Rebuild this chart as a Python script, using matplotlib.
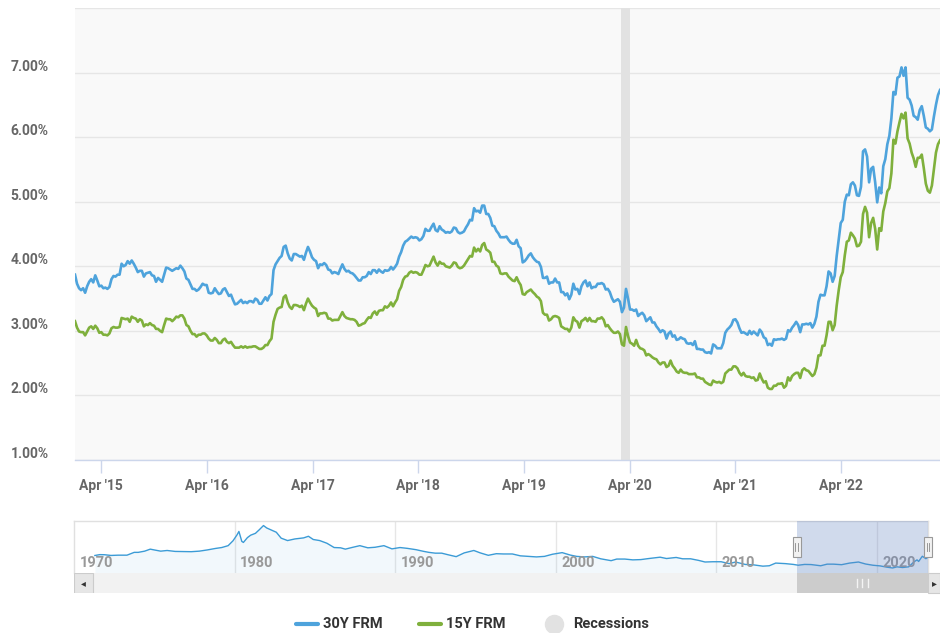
import matplotlib
matplotlib.use("Agg")
import matplotlib.pyplot as plt
import matplotlib.dates as mdates
import matplotlib.transforms as mtrans
from matplotlib.patches import Rectangle
from matplotlib.lines import Line2D
import numpy as np
import pandas as pd

plt.rcParams['font.family'] = ['Roboto', 'DejaVu Sans']

#########################################################################################
# Data: weekly Freddie Mac PMMS rates, first week = 2015-01-01
#########################################################################################
first_week = "2015-01-01"

rate_30y = [
    # 2015
    3.87, 3.73, 3.66, 3.63, 3.66, 3.59, 3.69, 3.76, 3.80, 3.75, 3.86, 3.78, 3.69,
    3.70, 3.66, 3.67, 3.65, 3.68, 3.80, 3.85, 3.84, 3.87, 3.87, 4.04, 4.00, 4.02,
    4.08, 4.04, 4.09, 4.04, 3.98, 3.91, 3.93, 3.93, 3.84, 3.89, 3.90, 3.91, 3.86,
    3.85, 3.76, 3.82, 3.79, 3.76, 3.87, 3.98, 3.97, 3.95, 3.93, 3.95, 3.97, 3.96, 4.01,
    # 2016
    3.97, 3.92, 3.81, 3.79, 3.72, 3.65, 3.65, 3.62, 3.64, 3.68, 3.73, 3.71, 3.71,
    3.59, 3.58, 3.59, 3.66, 3.61, 3.57, 3.58, 3.64, 3.66, 3.60, 3.54, 3.56, 3.48,
    3.41, 3.42, 3.45, 3.48, 3.43, 3.45, 3.43, 3.46, 3.46, 3.44, 3.50, 3.48, 3.42,
    3.42, 3.47, 3.52, 3.47, 3.54, 3.57, 3.94, 4.03, 4.08, 4.13, 4.16, 4.30, 4.32,
    # 2017
    4.20, 4.12, 4.09, 4.19, 4.19, 4.17, 4.15, 4.16, 4.10, 4.21, 4.30, 4.23, 4.14,
    4.10, 4.08, 3.97, 4.03, 4.02, 4.05, 4.02, 3.95, 3.94, 3.89, 3.91, 3.90, 3.88,
    3.96, 4.03, 3.96, 3.92, 3.93, 3.90, 3.89, 3.86, 3.82, 3.78, 3.78, 3.83, 3.83,
    3.85, 3.91, 3.88, 3.94, 3.94, 3.90, 3.95, 3.92, 3.90, 3.94, 3.93, 3.94, 3.99,
    # 2018
    3.95, 3.99, 4.04, 4.15, 4.22, 4.32, 4.38, 4.40, 4.43, 4.46, 4.44, 4.45, 4.44,
    4.40, 4.42, 4.47, 4.58, 4.55, 4.55, 4.61, 4.66, 4.56, 4.54, 4.62, 4.57, 4.55,
    4.52, 4.53, 4.52, 4.54, 4.60, 4.59, 4.53, 4.51, 4.52, 4.54, 4.60, 4.65, 4.72,
    4.71, 4.90, 4.85, 4.86, 4.83, 4.94, 4.94, 4.81, 4.81, 4.75, 4.63, 4.62, 4.55,
    # 2019
    4.51, 4.45, 4.45, 4.45, 4.46, 4.41, 4.37, 4.35, 4.35, 4.41, 4.31, 4.28, 4.06,
    4.08, 4.12, 4.17, 4.20, 4.14, 4.10, 4.07, 4.06, 3.99, 3.82, 3.82, 3.84, 3.73,
    3.75, 3.75, 3.81, 3.75, 3.75, 3.60, 3.60, 3.55, 3.58, 3.49, 3.56, 3.73, 3.64,
    3.65, 3.57, 3.69, 3.75, 3.78, 3.69, 3.75, 3.66, 3.68, 3.68, 3.73, 3.73, 3.74,
    # 2020
    3.72, 3.64, 3.65, 3.60, 3.51, 3.45, 3.47, 3.49, 3.45, 3.29, 3.36, 3.65, 3.50,
    3.33, 3.33, 3.31, 3.33, 3.23, 3.26, 3.28, 3.24, 3.15, 3.18, 3.21, 3.13, 3.13,
    3.07, 3.03, 2.98, 3.01, 2.99, 2.88, 2.96, 2.99, 2.91, 2.93, 2.86, 2.87, 2.90,
    2.88, 2.87, 2.81, 2.80, 2.81, 2.78, 2.84, 2.72, 2.72, 2.71, 2.71, 2.67, 2.66, 2.67,
    # 2021
    2.65, 2.79, 2.77, 2.73, 2.73, 2.73, 2.81, 2.97, 3.02, 3.05, 3.09, 3.17,
    3.18, 3.13, 3.04, 2.97, 2.98, 2.96, 2.94, 3.00, 2.95, 2.99, 2.96, 2.93, 3.02,
    2.98, 2.90, 2.88, 2.78, 2.80, 2.77, 2.87, 2.86, 2.87, 2.87, 2.88, 2.86, 2.88, 3.01,
    2.99, 3.05, 3.09, 3.14, 3.09, 2.98, 3.10, 3.10, 3.11, 3.10, 3.12, 3.05, 3.11,
    # 2022
    3.22, 3.45, 3.56, 3.55, 3.55, 3.69, 3.92, 3.89, 3.76, 3.85, 4.16, 4.42, 4.67,
    4.72, 5.00, 5.11, 5.10, 5.27, 5.30, 5.25, 5.10, 5.09, 5.23, 5.78, 5.81, 5.70,
    5.30, 5.51, 5.54, 5.30, 4.99, 5.22, 5.13, 5.55, 5.66, 5.89, 6.02, 6.29, 6.70,
    6.66, 6.92, 6.94, 7.08, 6.95, 7.08, 6.61, 6.58, 6.49, 6.33, 6.31, 6.27, 6.42,
    # 2023
    6.48, 6.33, 6.15, 6.13, 6.09, 6.12, 6.32, 6.50, 6.65, 6.73,
]

rate_15y = [
    # 2015
    3.15, 3.05, 2.99, 2.98, 2.98, 2.93, 2.99, 3.05, 3.07, 3.03, 3.08, 3.04, 2.97,
    2.98, 2.94, 2.94, 2.93, 2.96, 3.04, 3.06, 3.05, 3.05, 3.06, 3.20, 3.19, 3.18,
    3.19, 3.14, 3.22, 3.20, 3.19, 3.14, 3.18, 3.16, 3.07, 3.10, 3.09, 3.12, 3.09,
    3.08, 3.03, 3.03, 3.00, 2.98, 3.09, 3.19, 3.18, 3.18, 3.15, 3.18, 3.22, 3.21, 3.24,
    # 2016
    3.24, 3.19, 3.09, 3.07, 3.00, 2.95, 2.95, 2.91, 2.94, 2.94, 2.96, 2.96, 2.93,
    2.88, 2.85, 2.85, 2.89, 2.86, 2.81, 2.81, 2.86, 2.88, 2.83, 2.81, 2.83, 2.78,
    2.74, 2.74, 2.74, 2.76, 2.74, 2.76, 2.74, 2.75, 2.75, 2.76, 2.76, 2.74, 2.72,
    2.72, 2.74, 2.78, 2.78, 2.84, 2.88, 3.14, 3.25, 3.34, 3.36, 3.37, 3.52, 3.55,
    # 2017
    3.44, 3.37, 3.34, 3.40, 3.40, 3.39, 3.37, 3.39, 3.32, 3.42, 3.50, 3.44, 3.39,
    3.36, 3.34, 3.23, 3.27, 3.27, 3.28, 3.27, 3.19, 3.19, 3.16, 3.17, 3.17, 3.17,
    3.23, 3.29, 3.23, 3.20, 3.19, 3.18, 3.18, 3.17, 3.14, 3.08, 3.09, 3.11, 3.12,
    3.17, 3.21, 3.20, 3.27, 3.30, 3.25, 3.31, 3.32, 3.32, 3.38, 3.36, 3.39, 3.44,
    # 2018
    3.38, 3.44, 3.49, 3.62, 3.68, 3.79, 3.84, 3.85, 3.90, 3.92, 3.90, 3.91, 3.90,
    3.87, 3.87, 3.94, 4.02, 4.00, 4.01, 4.08, 4.15, 4.06, 4.01, 4.07, 4.04, 4.04,
    4.00, 3.99, 3.98, 4.01, 4.06, 4.05, 3.99, 3.97, 3.98, 4.01, 4.06, 4.11, 4.16,
    4.15, 4.29, 4.23, 4.27, 4.23, 4.33, 4.36, 4.26, 4.24, 4.21, 4.07, 4.07, 4.01,
    # 2019
    3.99, 3.89, 3.88, 3.89, 3.89, 3.84, 3.81, 3.78, 3.77, 3.83, 3.76, 3.71, 3.57,
    3.56, 3.60, 3.62, 3.64, 3.60, 3.57, 3.53, 3.51, 3.46, 3.28, 3.25, 3.25, 3.16,
    3.18, 3.22, 3.23, 3.22, 3.20, 3.07, 3.05, 3.03, 3.03, 2.99, 3.05, 3.21, 3.16,
    3.14, 3.05, 3.15, 3.17, 3.20, 3.15, 3.20, 3.15, 3.15, 3.14, 3.19, 3.19, 3.21,
    # 2020
    3.17, 3.07, 3.09, 3.04, 3.00, 2.97, 2.97, 2.99, 2.95, 2.79, 2.77, 3.06, 2.92,
    2.82, 2.80, 2.77, 2.86, 2.77, 2.73, 2.72, 2.70, 2.62, 2.64, 2.62, 2.59, 2.57,
    2.56, 2.51, 2.48, 2.51, 2.51, 2.44, 2.46, 2.54, 2.46, 2.42, 2.37, 2.35, 2.40,
    2.36, 2.35, 2.35, 2.33, 2.33, 2.33, 2.34, 2.28, 2.28, 2.26, 2.26, 2.21, 2.19, 2.17,
    # 2021
    2.16, 2.23, 2.21, 2.20, 2.21, 2.19, 2.21, 2.34, 2.37, 2.40, 2.40, 2.45,
    2.45, 2.42, 2.35, 2.31, 2.35, 2.30, 2.29, 2.29, 2.27, 2.28, 2.23, 2.24, 2.34,
    2.26, 2.20, 2.22, 2.12, 2.10, 2.10, 2.15, 2.15, 2.18, 2.18, 2.19, 2.12, 2.15, 2.28,
    2.23, 2.30, 2.33, 2.35, 2.35, 2.27, 2.39, 2.42, 2.39, 2.38, 2.34, 2.30, 2.33,
    # 2022
    2.43, 2.62, 2.62, 2.77, 2.77, 2.93, 3.14, 3.14, 3.01, 3.09, 3.39, 3.63, 3.83,
    3.91, 4.17, 4.38, 4.40, 4.52, 4.48, 4.43, 4.31, 4.32, 4.38, 4.81, 4.92, 4.83,
    4.45, 4.67, 4.75, 4.58, 4.26, 4.59, 4.55, 4.85, 4.98, 5.16, 5.21, 5.44, 5.96,
    5.90, 6.09, 6.23, 6.36, 6.29, 6.38, 5.98, 5.90, 5.76, 5.67, 5.54, 5.68, 5.68,
    # 2023
    5.73, 5.52, 5.28, 5.17, 5.14, 5.25, 5.51, 5.76, 5.89, 5.95,
]

recession = ("2020-03-01", "2020-04-01")

# navigator: 30Y rate over the full history (decimal year, %)
nav_years = [
    1971.3, 1971.6, 1971.9, 1972.3, 1972.75, 1973.3, 1973.75, 1974.0, 1974.4, 1974.75,
    1975.0, 1975.4, 1975.8, 1976.3, 1976.8, 1977.3, 1977.8, 1978.3, 1978.8, 1979.2,
    1979.6, 1979.9, 1980.15, 1980.27, 1980.45, 1980.55, 1980.8, 1981.0, 1981.3, 1981.55,
    1981.8, 1982.0, 1982.3, 1982.6, 1982.9, 1983.3, 1983.75, 1984.3, 1984.6, 1984.9,
    1985.3, 1985.75, 1986.2, 1986.6, 1986.9, 1987.3, 1987.8, 1988.3, 1988.75, 1989.3,
    1989.8, 1990.3, 1990.75, 1991.3, 1991.75, 1992.1, 1992.5, 1992.9, 1993.3, 1993.8,
    1994.3, 1994.9, 1995.3, 1995.8, 1996.3, 1996.75, 1997.3, 1997.8, 1998.3, 1998.8,
    1999.3, 1999.8, 2000.4, 2000.9, 2001.3, 2001.8, 2002.3, 2002.8, 2003.45, 2003.8,
    2004.3, 2004.8, 2005.3, 2005.8, 2006.5, 2006.9, 2007.5, 2007.9, 2008.4, 2008.9,
    2009.3, 2009.8, 2010.3, 2010.8, 2011.2, 2011.8, 2012.3, 2012.9, 2013.3, 2013.7,
    2014.3, 2014.8, 2015.1, 2015.5, 2015.9, 2016.5, 2016.9, 2017.3, 2017.8, 2018.3,
    2018.85, 2019.3, 2019.75, 2020.2, 2020.6, 2020.98, 2021.25, 2021.6, 2021.98, 2022.3,
    2022.5, 2022.6, 2022.83, 2023.05, 2023.19,
]
nav_rates = [
    7.33, 7.65, 7.62, 7.35, 7.45, 7.45, 8.5, 8.5, 8.95, 9.7,
    9.4, 8.95, 9.2, 8.85, 8.8, 8.75, 8.95, 9.4, 9.95, 10.3,
    11.0, 12.8, 15.0, 16.3, 12.6, 12.2, 14.0, 14.9, 15.6, 17.0,
    18.5, 17.6, 16.8, 16.0, 13.8, 12.9, 13.5, 13.9, 14.5, 13.3,
    12.9, 11.9, 10.3, 10.2, 9.7, 10.3, 11.0, 10.2, 10.4, 11.0,
    9.8, 10.3, 10.0, 9.5, 8.9, 8.5, 8.2, 8.2, 7.6, 6.9,
    8.3, 9.2, 8.3, 7.4, 8.0, 7.9, 7.9, 7.2, 7.0, 6.8,
    7.0, 7.8, 8.4, 7.5, 7.0, 6.8, 7.0, 6.1, 5.4, 6.0,
    6.0, 5.7, 5.8, 6.2, 6.7, 6.2, 6.6, 6.1, 6.1, 5.5,
    4.9, 5.0, 5.0, 4.3, 4.9, 4.0, 3.85, 3.35, 3.5, 4.5,
    4.3, 4.0, 3.7, 4.0, 3.95, 3.5, 4.1, 4.1, 3.9, 4.5,
    4.9, 4.15, 3.7, 3.45, 3.0, 2.67, 3.1, 2.85, 3.1, 4.9,
    5.7, 5.1, 7.05, 6.15, 6.73,
]
nav_decades = [1970, 1980, 1990, 2000, 2010, 2020]

#########################################################################################
# Styles
#########################################################################################
BLUE = "#4ea3dc"
GREEN = "#7fb03c"
GRID = "#e6e6e6"
AXIS = "#ccd6eb"
LABEL = "#666666"

W, H = 940, 633


def box(left, top, right, bottom):
    """pixel box -> figure fraction rect"""
    return [left / W, 1 - bottom / H, (right - left) / W, (bottom - top) / H]


def dec_year(d):
    return d.year + (d.dayofyear - 1) / (366 if d.is_leap_year else 365)


dates = pd.date_range(first_week, periods=len(rate_30y), freq="W-THU")

fig = plt.figure(figsize=(W / 100, H / 100), dpi=100, facecolor="white")

#########################################################################################
# Main chart
#########################################################################################
ax = fig.add_axes(box(75, 8, 940, 460))
ax.set_facecolor("#f9f9f9")

ax.axvspan(pd.Timestamp(recession[0]), pd.Timestamp(recession[1]), color="#e2e2e2", lw=0, zorder=1)
ax.plot(dates, rate_30y, color=BLUE, lw=1.9, zorder=3, solid_joinstyle="round")
ax.plot(dates, rate_15y, color=GREEN, lw=1.9, zorder=3, solid_joinstyle="round")

ax.set_xlim(dates[0], dates[-1])
ax.set_ylim(1, 8)
ax.set_yticks(np.arange(1, 9))
ax.yaxis.set_major_formatter(plt.FuncFormatter(lambda v, p: "" if v >= 8 else f"{v:.2f}%"))
ax.grid(axis="y", color=GRID, lw=1, zorder=0)
ax.set_axisbelow(True)

ax.xaxis.set_major_locator(mdates.MonthLocator(bymonth=[4]))
ax.xaxis.set_major_formatter(mdates.DateFormatter("%b '%y"))

for s in ["top", "right", "left"]:
    ax.spines[s].set_visible(False)
ax.spines["bottom"].set_color(AXIS)
ax.spines["bottom"].set_linewidth(1)

ax.tick_params(axis="y", length=0, pad=19, labelsize=10, labelcolor=LABEL)
ax.tick_params(axis="x", length=9, width=1, color=AXIS, pad=5, labelsize=10, labelcolor=LABEL)
for lab in ax.get_yticklabels() + ax.get_xticklabels():
    lab.set_fontweight("bold")
shift = mtrans.ScaledTranslation(0, 0.075, fig.dpi_scale_trans)
for lab in ax.get_yticklabels():
    lab.set_transform(lab.get_transform() + shift)

#########################################################################################
# Navigator
#########################################################################################
sel_start = dec_year(dates[0])
sel_end = dec_year(dates[-1])

nav = fig.add_axes(box(74, 521, 928, 573))
nav.set_facecolor("white")
nav.set_xlim(1970.0, sel_end)
nav.set_ylim(0.8, 20.2)
nav.fill_between(nav_years, nav_rates, 0.8, color=BLUE, alpha=0.07, lw=0, zorder=2)
nav.plot(nav_years, nav_rates, color="#3b9bd6", lw=1, zorder=3)
for yr in nav_decades[1:]:
    nav.axvline(yr, color=GRID, lw=1, zorder=1)
for yr in nav_decades:
    nav.text(yr + 0.35, 0.2, str(yr), transform=nav.get_xaxis_transform(),
             color="#999999", fontsize=10.5, fontweight="bold", ha="left", va="center", zorder=4)
nav.axvspan(sel_start, sel_end, color="#6685c2", alpha=0.3, lw=0, zorder=4)
nav.set_xticks([])
nav.set_yticks([])
for s in nav.spines.values():
    s.set_color("#e0e0e0")
    s.set_linewidth(1)
nav.spines["bottom"].set_visible(False)

# handles
span = sel_end - 1970.0
hw = span * 8 / 854
for x in (sel_start, sel_end):
    nav.add_patch(Rectangle((x - hw / 2, 0.31), hw, 0.38, transform=nav.get_xaxis_transform(),
                            facecolor="#f2f2f2", edgecolor="#999999", lw=0.8, zorder=6, clip_on=False))
    for dx in (-hw * 0.15, hw * 0.15):
        nav.plot([x + dx, x + dx], [0.42, 0.58], transform=nav.get_xaxis_transform(),
                 color="#888888", lw=0.6, zorder=7, clip_on=False)

#########################################################################################
# Scrollbar
#########################################################################################
sb = fig.add_axes(box(74, 573, 928, 593))
sb.set_xlim(nav.get_xlim())
sb.set_ylim(0, 1)
sb.axis("off")
sb.add_patch(Rectangle((0, 0), 1, 1, transform=sb.transAxes, color="#f2f2f2", lw=0, zorder=0))
sb.axvspan(sel_start, sel_end, color="#cccccc", lw=0, zorder=1)
mid = (sel_start + sel_end) / 2
for dx in (-0.35, 0, 0.35):
    sb.plot([mid + dx, mid + dx], [0.3, 0.7], color="#f4f4f4", lw=1, zorder=2)
bw = 19 / 854
sb.add_patch(Rectangle((0, 0), bw, 1, transform=sb.transAxes, facecolor="#e6e6e6",
                       edgecolor="#cccccc", lw=0.8, zorder=3))
sb.text(bw / 2, 0.5, "◂", transform=sb.transAxes, ha="center", va="center",
        fontsize=7, color="#333333", family="DejaVu Sans", zorder=4)
rw = 12 / 854
sb.add_patch(Rectangle((1, 0), rw, 1, transform=sb.transAxes, facecolor="#e6e6e6",
                       edgecolor="#cccccc", lw=0.8, zorder=3, clip_on=False))
sb.text(1 + rw / 2, 0.5, "▸", transform=sb.transAxes, ha="center", va="center",
        fontsize=7, color="#333333", family="DejaVu Sans", zorder=4, clip_on=False)

#########################################################################################
# Legend
#########################################################################################
ly = 1 - 624 / H
legend_items = [("30Y FRM", BLUE, "line", 296), ("15Y FRM", GREEN, "line", 419), ("Recessions", "#e2e2e2", "dot", 546)]
for name, col, kind, x0 in legend_items:
    if kind == "line":
        fig.add_artist(Line2D([x0 / W, (x0 + 22) / W], [ly, ly], color=col, lw=3, solid_capstyle="round"))
    else:
        fig.add_artist(Line2D([(x0 + 8) / W], [ly], marker="o", markersize=13, color=col, lw=0))
    fig.text((x0 + 27) / W, ly, name, ha="left", va="center", fontsize=10.5, fontweight="bold", color="#333333")

fig.savefig("out.png", dpi=100, facecolor="white")
